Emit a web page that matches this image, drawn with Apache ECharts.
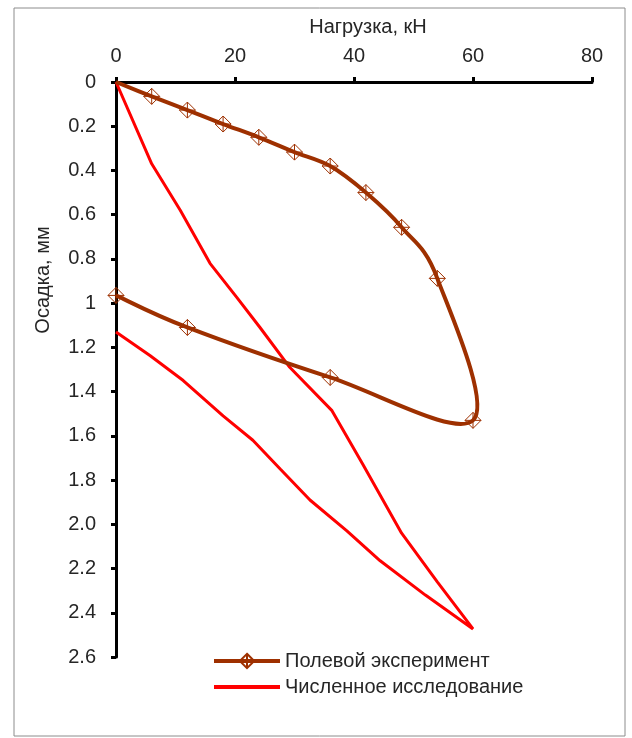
<!DOCTYPE html>
<html>
<head>
<meta charset="utf-8">
<script src="https://cdn.jsdelivr.net/npm/echarts@6/dist/echarts.min.js"></script>
<style>
  html, body { margin: 0; padding: 0; background: #fff; }
  #chart { width: 632px; height: 738px; }
</style>
</head>
<body>
<div id="chart"></div>
<script>
// Полевой эксперимент: нагрузка (кН) и осадка (мм), нагружение + разгрузка
const fieldLoad   = [0, 6, 12, 18, 24, 30, 36, 42, 48, 54, 60, 36, 12, 0];
const fieldSettle = [0, 0.065, 0.127, 0.19, 0.25, 0.317, 0.38, 0.5, 0.657, 0.888, 1.53, 1.336, 1.11, 0.965];

// Численное исследование
const numLoad   = [0, 6, 10.8, 15.8, 20.3, 24.2, 29.2, 36.3, 41.5, 48, 54, 60, 52, 44.4, 38.8, 32.6, 27.6, 23, 18, 11.3, 5.7, 0];
const numSettle = [0, 0.37, 0.58, 0.82, 0.974, 1.11, 1.29, 1.486, 1.73, 2.04, 2.26, 2.473, 2.32, 2.165, 2.03, 1.89, 1.75, 1.62, 1.51, 1.35, 1.237, 1.13];

const seriesNames = ['Полевой эксперимент', 'Численное исследование'];
const yTickLabels = ['0', '0.2', '0.4', '0.6', '0.8', '1', '1.2', '1.4', '1.6', '1.8', '2.0', '2.2', '2.4', '2.6'];

const FONT = 'Liberation Sans, Arial, sans-serif';
const TXT = '#262626';
const BROWN = '#9E3000';
const RED = '#FF0000';
const plusDiamond = 'path://M10,0 L20,10 L10,20 L0,10 Z M10,0 L10,20 M0,10 L20,10';

const zip = (xs, ys) => xs.map((x, i) => [x, ys[i]]);

// сглаженная линия как в Excel (Catmull-Rom -> Безье), через координаты осей
function smoothPath(api) {
  const p = fieldLoad.map((x, i) => api.coord([x, fieldSettle[i]]));
  const n = p.length;
  const t = 1 / 6;
  let d = 'M' + p[0][0] + ',' + p[0][1];
  for (let i = 0; i < n - 1; i++) {
    const p0 = p[Math.max(i - 1, 0)];
    const p1 = p[i];
    const p2 = p[i + 1];
    const p3 = p[Math.min(i + 2, n - 1)];
    const c1 = [p1[0] + (p2[0] - p0[0]) * t, p1[1] + (p2[1] - p0[1]) * t];
    const c2 = [p2[0] - (p3[0] - p1[0]) * t, p2[1] - (p3[1] - p1[1]) * t];
    d += ' C' + c1.join(',') + ' ' + c2.join(',') + ' ' + p2.join(',');
  }
  return d;
}

const fieldData = zip(fieldLoad, fieldSettle).map((v, i) =>
  i === 0 ? { value: v, symbol: 'none' } : v
);

const chart = echarts.init(document.getElementById('chart'));

chart.setOption({
  animation: false,
  backgroundColor: '#fff',
  textStyle: { fontFamily: FONT },
  grid: { left: 116, right: 40, top: 82, bottom: 81 },
  graphic: [
    {
      type: 'rect',
      shape: { x: 14, y: 8, width: 611, height: 728 },
      style: { fill: 'none', stroke: '#8c8c8c', lineWidth: 1 }
    },
    {
      type: 'text',
      x: 43, y: 280,
      rotation: Math.PI / 2,
      style: {
        text: 'Осадка, мм',
        font: '20px ' + FONT,
        fill: TXT,
        align: 'center',
        verticalAlign: 'middle'
      }
    }
  ],
  xAxis: {
    type: 'value',
    position: 'top',
    min: 0, max: 80, interval: 20,
    name: 'Нагрузка, кН',
    nameLocation: 'middle',
    nameGap: 45,
    nameTextStyle: { fontSize: 20, color: TXT, fontFamily: FONT, padding: [0, 0, 0, 28] },
    axisLine: { lineStyle: { color: '#000', width: 3 } },
    axisTick: { inside: false, length: 5, lineStyle: { color: '#000', width: 3 } },
    axisLabel: { fontSize: 20, color: TXT, margin: 16, fontFamily: FONT },
    splitLine: { show: false }
  },
  yAxis: {
    type: 'value',
    inverse: true,
    min: 0, max: 2.6, interval: 0.2,
    axisLine: { onZero: false, lineStyle: { color: '#000', width: 3 } },
    axisTick: { inside: false, length: 5, lineStyle: { color: '#000', width: 3 } },
    axisLabel: {
      fontSize: 20, color: TXT, margin: 20, fontFamily: FONT,
      formatter: (v) => yTickLabels[Math.round(v / 0.2)]
    },
    splitLine: { show: false }
  },
  legend: {
    orient: 'vertical',
    left: 212, top: 651,
    padding: 0,
    itemWidth: 66, itemHeight: 18, itemGap: 6,
    textStyle: { fontSize: 20, color: TXT, fontFamily: FONT },
    data: [
      { name: seriesNames[0], lineStyle: { opacity: 1, width: 4, color: BROWN } },
      { name: seriesNames[1], itemStyle: { opacity: 0 }, lineStyle: { width: 4, color: RED } }
    ]
  },
  series: [
    {
      name: 'fieldCurve',
      type: 'custom',
      data: zip(fieldLoad, fieldSettle),
      encode: { x: 0, y: 1 },
      clip: false,
      z: 3,
      renderItem: (params, api) => {
        if (params.dataIndex !== 0) return null;
        return {
          type: 'path',
          shape: { pathData: smoothPath(api) },
          style: { fill: 'none', stroke: BROWN, lineWidth: 4, lineJoin: 'round' }
        };
      }
    },
    {
      name: seriesNames[0],
      type: 'line',
      data: fieldData,
      symbol: plusDiamond,
      symbolSize: 16,
      itemStyle: { color: 'rgba(0,0,0,0)', borderColor: BROWN, borderWidth: 1 },
      lineStyle: { color: BROWN, width: 4, opacity: 0 },
      z: 4
    },
    {
      name: seriesNames[1],
      type: 'line',
      data: zip(numLoad, numSettle),
      showSymbol: false,
      symbol: 'none',
      itemStyle: { color: RED },
      lineStyle: { color: RED, width: 3 },
      z: 2
    }
  ]
});
</script>
</body>
</html>
